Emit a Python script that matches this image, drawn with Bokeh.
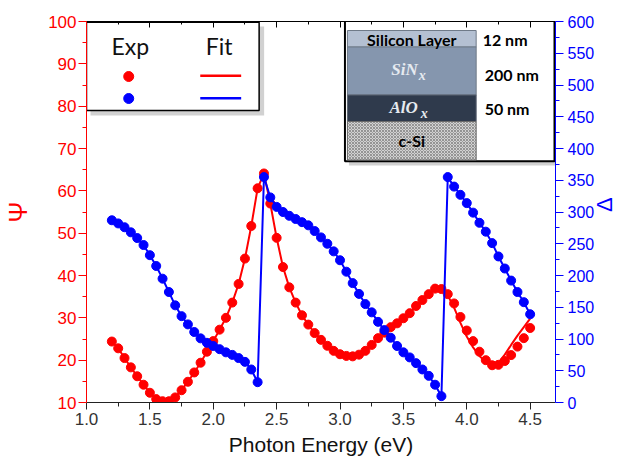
import math
from bokeh.plotting import figure
from bokeh.models import LinearAxis, Range1d, FixedTicker, PrintfTickFormatter
from bokeh.embed import file_html
from bokeh.resources import INLINE
from bokeh.core.properties import value

# ---------------- data ----------------
energy = [1.20, 1.25, 1.30, 1.35, 1.40, 1.45, 1.50, 1.55, 1.60, 1.65,
          1.70, 1.75, 1.80, 1.85, 1.90, 1.95, 2.00, 2.05, 2.10, 2.15,
          2.20, 2.25, 2.30, 2.35, 2.40, 2.45, 2.50, 2.55, 2.60, 2.65,
          2.70, 2.75, 2.80, 2.85, 2.90, 2.95, 3.00, 3.05, 3.10, 3.15,
          3.20, 3.25, 3.30, 3.35, 3.40, 3.45, 3.50, 3.55, 3.60, 3.65,
          3.70, 3.75, 3.80, 3.85, 3.90, 3.95, 4.00, 4.05, 4.10, 4.15,
          4.20, 4.25, 4.30, 4.35, 4.40, 4.45, 4.50]

psi_exp = [24.4, 22.8, 20.5, 18.3, 16.2, 14.2, 12.3, 10.8, 10.3, 10.3,
           11.2, 12.9, 14.9, 17.1, 19.4, 22.0, 24.5, 27.2, 30.0, 33.6,
           38.0, 44.0, 51.7, 60.6, 64.1, 57.0, 48.9, 42.0, 37.2, 33.6,
           30.6, 28.4, 26.4, 24.8, 23.4, 22.2, 21.4, 21.0, 20.9, 21.3,
           22.2, 23.6, 25.2, 26.5, 27.8, 28.7, 29.9, 31.1, 32.8, 34.2,
           35.6, 36.9, 36.8, 35.6, 33.4, 30.2, 27.0, 24.5, 22.0, 20.0,
           18.8, 18.9, 19.8, 21.2, 23.2, 25.2, 27.6]

psi_fit = [24.4, 22.8, 20.5, 18.3, 16.2, 14.2, 12.3, 10.8, 10.3, 10.3,
           11.2, 12.9, 14.9, 17.1, 19.4, 22.0, 24.5, 27.2, 30.0, 33.6,
           38.0, 44.0, 51.7, 60.6, 64.1, 57.0, 48.9, 42.0, 37.2, 33.6,
           30.6, 28.4, 26.4, 24.8, 23.4, 22.2, 21.4, 21.0, 20.9, 21.3,
           22.2, 23.6, 25.2, 26.5, 27.8, 28.7, 29.9, 31.1, 32.8, 34.2,
           35.6, 36.9, 36.8, 35.3, 32.4, 28.8, 25.6, 23.0, 21.0, 19.6,
           18.8, 19.4, 21.3, 23.6, 25.8, 27.8, 29.8]

delta_exp = [287, 282, 276, 268, 259, 248, 232, 215, 195, 174,
             153, 136, 123, 111, 101, 94, 89, 84, 79, 75,
             70, 64, 52, 32, 355, 323, 308, 300, 294, 289,
             284, 279, 270, 260, 250, 238, 224, 206, 188, 171,
             155, 142, 127, 114, 102, 89, 79, 71, 62, 52,
             42, 28, 10, 355, 340, 327, 314, 299, 283, 269,
             251, 230, 211, 192, 174, 158, 139]

delta_fit = list(delta_exp)

x_ticks = [1.0, 1.5, 2.0, 2.5, 3.0, 3.5, 4.0, 4.5]
x_minor = [1.25, 1.75, 2.25, 2.75, 3.25, 3.75, 4.25]
psi_ticks = [10, 20, 30, 40, 50, 60, 70, 80, 90, 100]
psi_minor = [15, 25, 35, 45, 55, 65, 75, 85, 95]
delta_ticks = [0, 50, 100, 150, 200, 250, 300, 350, 400, 450, 500, 550, 600]
delta_minor = [25, 75, 125, 175, 225, 275, 325, 375, 425, 475, 525, 575]

x_title = "Photon Energy (eV)"
psi_title = "Ψ"
delta_title = "Δ"
legend_headers = ["Exp", "Fit"]
layer_names = ["Silicon Layer", "c-Si"]
layer_thickness = ["12 nm", "200 nm", "50 nm"]

# ---------------- layout helpers (pixel -> data, for annotations only) ----
X0, X1, Y0, Y1 = 1.0, 4.7, 10.0, 100.0
FL, FR, FT, FB = 86.0, 556.0, 21.0, 402.0
W, H = 632, 463


def xp(px):
    return X0 + (px - FL) / (FR - FL) * (X1 - X0)


def yp(py):
    return Y1 - (py - FT) / (FB - FT) * (Y1 - Y0)


p = figure(width=W, height=H, x_range=Range1d(X0, X1), y_range=Range1d(Y0, Y1),
           output_backend="svg", toolbar_location=None,
           min_border_left=int(FL), min_border_right=int(W - FR),
           min_border_top=int(FT), min_border_bottom=int(H - FB))
p.extra_y_ranges = {"delta": Range1d(0, 600)}
p.grid.visible = False
p.outline_line_color = None
p.background_fill_color = "white"
p.border_fill_color = "white"

AXF = "Liberation Sans"

# bottom axis
xa = p.xaxis[0]
xa.ticker = FixedTicker(ticks=x_ticks, minor_ticks=x_minor)
xa.formatter = PrintfTickFormatter(format="%.1f")
xa.axis_line_color = "#222222"
xa.major_tick_line_color = "#222222"
xa.minor_tick_line_color = "#222222"
xa.major_tick_out = 7
xa.major_tick_in = 0
xa.minor_tick_out = 4
xa.minor_tick_in = 0
xa.major_label_text_font = AXF
xa.major_label_text_font_size = "17px"
xa.major_label_text_color = "#333333"
xa.major_label_standoff = 3
xa.axis_label = x_title
xa.axis_label_text_font = AXF
xa.axis_label_text_font_size = "21px"
xa.axis_label_text_font_style = "normal"
xa.axis_label_text_color = "#111111"
xa.axis_label_standoff = 5

# left axis
ya = p.yaxis[0]
ya.ticker = FixedTicker(ticks=psi_ticks, minor_ticks=psi_minor)
ya.axis_line_color = "red"
ya.major_tick_line_color = "red"
ya.minor_tick_line_color = "red"
ya.major_tick_out = 8
ya.major_tick_in = 0
ya.minor_tick_out = 4
ya.minor_tick_in = 0
ya.major_label_text_font = AXF
ya.major_label_text_font_size = "17px"
ya.major_label_text_color = "red"
ya.major_label_standoff = 2
ya.axis_label = psi_title
ya.axis_label_text_font = AXF
ya.axis_label_text_font_size = "25px"
ya.axis_label_text_font_style = "normal"
ya.axis_label_text_color = "red"
ya.axis_label_standoff = 13

# right axis
ra = LinearAxis(y_range_name="delta")
ra.ticker = FixedTicker(ticks=delta_ticks, minor_ticks=delta_minor)
ra.axis_line_color = "blue"
ra.major_tick_line_color = "blue"
ra.minor_tick_line_color = "blue"
ra.major_tick_out = 8
ra.major_tick_in = 0
ra.minor_tick_out = 4
ra.minor_tick_in = 0
ra.major_label_text_font = AXF
ra.major_label_text_font_size = "16px"
ra.major_label_text_color = "blue"
ra.major_label_standoff = 4
ra.axis_label = delta_title
ra.axis_label_text_font = AXF
ra.axis_label_text_font_size = "22px"
ra.axis_label_text_font_style = "normal"
ra.axis_label_text_color = "blue"
ra.axis_label_standoff = 7
if hasattr(ra, "axis_label_orientation"):
    try:
        ra.axis_label_orientation = math.pi / 2
    except Exception:
        pass
p.add_layout(ra, "right")

# top axis (ticks inward, no labels)
ta = LinearAxis()
ta.ticker = FixedTicker(ticks=x_ticks, minor_ticks=x_minor)
ta.major_label_overrides = {t: "" for t in x_ticks}
ta.axis_line_color = "black"
ta.major_tick_line_color = "black"
ta.minor_tick_line_color = "black"
ta.major_tick_in = 6
ta.major_tick_out = 0
ta.minor_tick_in = 3
ta.minor_tick_out = 0
ta.major_label_text_font_size = "8px"
ta.major_label_standoff = 0
p.add_layout(ta, "above")

# ---------------- data marks ----------------
p.line(energy, psi_fit, line_color="red", line_width=2)
p.scatter(energy, psi_exp, marker="circle", size=9, fill_color="red", line_color="red")
p.line(energy, delta_fit, line_color="blue", line_width=2, y_range_name="delta")
p.scatter(energy, delta_exp, marker="circle", size=9, fill_color="blue", line_color="blue",
          y_range_name="delta")

# ---------------- legend box ----------------
p.quad(left=[xp(90)], right=[xp(264)], top=[yp(26)], bottom=[yp(115)],
       fill_color="#9a9a9a", fill_alpha=0.45, line_color=None)
p.quad(left=[xp(86)], right=[xp(259)], top=[yp(21.7)], bottom=[yp(110)],
       fill_color="white", line_color="black", line_width=1.5)
p.text(x=[xp(130), xp(219)], y=[yp(45), yp(45)], text=legend_headers,
       text_align="center", text_baseline="middle", text_font=value("Lato"),
       text_font_size="23px", text_color="#111111")
p.scatter([xp(128.3)], [yp(76)], marker="circle", size=10, fill_color="red", line_color="red")
p.scatter([xp(128.3)], [yp(98)], marker="circle", size=10, fill_color="blue", line_color="blue")
p.segment(x0=[xp(200)], y0=[yp(75.3)], x1=[xp(241)], y1=[yp(75.3)], line_color="red", line_width=2.5)
p.segment(x0=[xp(200)], y0=[yp(97.7)], x1=[xp(241)], y1=[yp(97.7)], line_color="blue", line_width=2.5)

# ---------------- inset (layer stack) ----------------
p.quad(left=[xp(349)], right=[xp(560)], top=[yp(24)], bottom=[yp(165)],
       fill_color="#9a9a9a", fill_alpha=0.45, line_color=None)
p.quad(left=[xp(345)], right=[xp(555)], top=[yp(20.5)], bottom=[yp(160.7)],
       fill_color="white", line_color="black", line_width=2)
LX0, LX1 = xp(347.5), xp(476.5)
p.quad(left=[LX0], right=[LX1], top=[yp(30)], bottom=[yp(46.5)],
       fill_color="#B4C0D2", line_color="#6f7a88", line_width=1)
p.quad(left=[LX0], right=[LX1], top=[yp(46.5)], bottom=[yp(94.5)],
       fill_color="#8596AE", line_color="#6f7a88", line_width=1)
p.quad(left=[LX0], right=[LX1], top=[yp(94.5)], bottom=[yp(121)],
       fill_color="#2F3A4C", line_color="#5a6270", line_width=1)
p.quad(left=[LX0], right=[LX1], top=[yp(121)], bottom=[yp(159.5)],
       fill_color="#D2D2D2", hatch_pattern="x", hatch_color="#6a6a6a",
       hatch_scale=3, hatch_weight=0.6, line_color="#6a6a6a", line_width=1)

p.text(x=[xp(412), xp(412)], y=[yp(38.5), yp(140)], text=layer_names,
       text_align="center", text_baseline="middle", text_font=value("Lato"),
       text_font_style="bold", text_font_size="16px", text_color="black")
p.text(x=[xp(483), xp(485), xp(485)], y=[yp(39), yp(73.5), yp(108)], text=layer_thickness,
       text_align="left", text_baseline="middle", text_font=value("Lato"),
       text_font_style="bold", text_font_size="16px", text_color="black")
p.text(x=[xp(418), xp(418)], y=[yp(69), yp(107)], text=["SiN", "AlO"],
       text_align="right", text_baseline="middle", text_font=value("Liberation Serif"),
       text_font_style="bold italic", text_font_size="17px", text_color="#E6EAF0")
p.text(x=[xp(419), xp(421)], y=[yp(75), yp(113)], text=["x", "x"],
       text_align="left", text_baseline="middle", text_font=value("Liberation Serif"),
       text_font_style="bold italic", text_font_size="14px", text_color="#E6EAF0")

open("out.html", "w").write(file_html(p, INLINE))
